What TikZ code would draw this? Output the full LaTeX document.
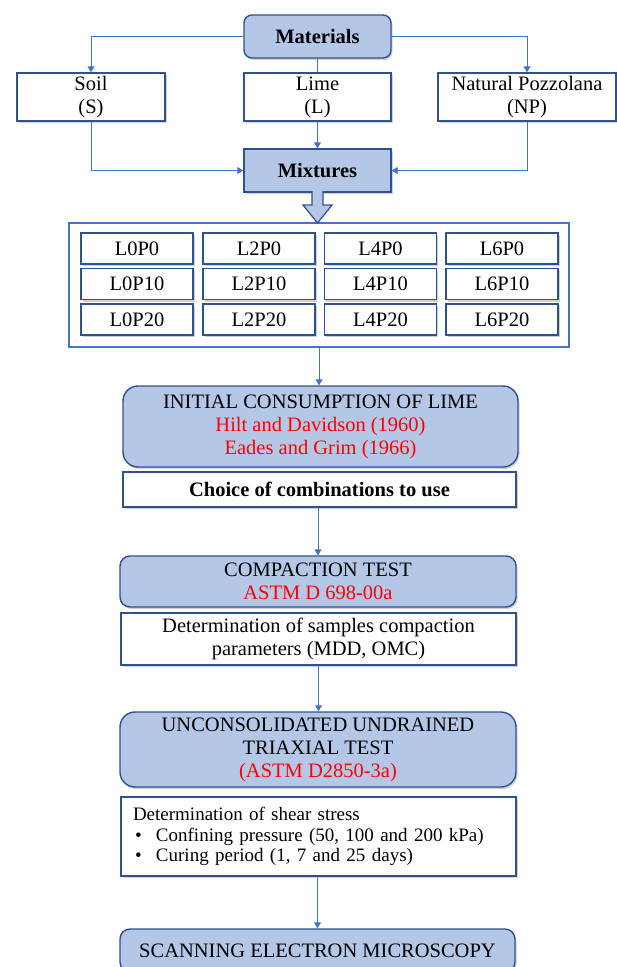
\documentclass[tikz,border=0pt]{standalone}
\usepackage{fontspec}
\setmainfont{Liberation Serif}
\usepackage{tikz}
\usetikzlibrary{arrows.meta,shadows}

\definecolor{lblue}{HTML}{B4C7E7}
\definecolor{bdr}{HTML}{2F528F}
\definecolor{lnk}{HTML}{4472C4}
\definecolor{refred}{HTML}{FF0000}

\tikzset{
  shade box/.style={drop shadow={shadow xshift=1.5pt,shadow yshift=-2pt,opacity=0.3,fill=black!60}},
  bluebox/.style={draw=bdr,line width=1.4pt,fill=lblue,rounded corners=8pt,align=center,inner sep=0pt,shade box},
  whitebox/.style={draw=bdr,line width=1.4pt,fill=white,align=center,inner sep=0pt,shade box},
  cellbox/.style={whitebox,minimum width=112pt,minimum height=31pt},
  conn/.style={draw=lnk,line width=0.9pt},
  arr/.style={conn,-{Triangle[width=7pt,length=6pt]}},
  big/.style={font=\fontsize{20.5}{23}\selectfont}
}

\begin{document}
\begin{tikzpicture}[x=1pt,y=-1pt,big]
	\useasboundingbox (0,0) rectangle (617,967);
	\clip (0,0) rectangle (617,967);

	% 材料
	\node[bluebox,minimum width=147pt,minimum height=43pt] (mat) at (317.5,36.5) {\textbf{Materials}};
	\node[whitebox,minimum width=148pt,minimum height=48pt] (soil) at (91,97) {Soil\\(S)};
	\node[whitebox,minimum width=147pt,minimum height=48pt] (lime) at (317.5,97) {Lime\\(L)};
	\node[whitebox,minimum width=178pt,minimum height=48pt] (np) at (527,97) {Natural Pozzolana\\(NP)};
	\node[bluebox,rounded corners=0pt,minimum width=147pt,minimum height=43pt] (mix) at (317.5,170.5) {\textbf{Mixtures}};

	\draw[arr] (mat.west) -| (soil.north);
	\draw[arr] (mat.east) -| (np.north);
	\draw[conn] (mat.south) -- (lime.north);
	\draw[arr] (lime.south) -- (mix.north);
	\draw[arr] (soil.south) |- (mix.west);
	\draw[arr] (np.south) |- (mix.east);

	% 混合物表格
	\node[draw=lnk,line width=1.2pt,fill=white,minimum width=500pt,minimum height=124pt,inner sep=0pt] (mixbox) at (319,285) {};
	\foreach \c/\x in {0/137,2/259,4/380.5,6/502}
		\foreach \p/\y in {0/248.5,10/284,20/319.5}
			\node[cellbox] (c\c p\p) at (\x,\y) {L\c P\p};

	% 空心箭头
	\draw[draw=bdr,line width=1.2pt,fill=lblue,line join=miter]
		(312,191) -- (312,205) -- (303,205) -- (317.5,223) -- (332,205) -- (323,205) -- (323,191);

	% 石灰初始消耗
	\node[bluebox,rounded corners=15pt,minimum width=395pt,minimum height=81pt] (ini) at (320.5,426.5)
		{INITIAL CONSUMPTION OF LIME\\\textcolor{refred}{Hilt and Davidson (1960)}\\\textcolor{refred}{Eades and Grim (1966)}};
	\node[whitebox,minimum width=393pt,minimum height=35pt] (choice) at (319.5,489.5) {\textbf{Choice of combinations to use}};
	\draw[arr] (mixbox.south) -- (mixbox.south |- ini.north);

	% 击实试验
	\node[bluebox,rounded corners=10pt,minimum width=396pt,minimum height=51pt] (comp) at (318,581.5)
		{COMPACTION TEST\\\textcolor{refred}{ASTM D 698-00a}};
	\node[whitebox,minimum width=395pt,minimum height=52pt] (det) at (318.5,639)
		{Determination of samples compaction\\parameters (MDD, OMC)};
	\draw[arr] (choice.south -| comp.north) -- (comp.north);

	% 三轴试验
	\node[bluebox,rounded corners=15pt,minimum width=396pt,minimum height=75pt] (uu) at (318,749.5)
		{UNCONSOLIDATED UNDRAINED\\TRIAXIAL TEST\\\textcolor{refred}{(ASTM D2850-3a)}};
	\node[whitebox,minimum width=395pt,minimum height=79pt,text width=371pt,align=left,
		font=\fontsize{19}{20.5}\selectfont] (shear) at (318.5,836.5)
		{Determination of shear stress\\
		 \hspace*{2pt}\makebox[21pt][l]{\textbullet}Confining pressure (50, 100 and 200 kPa)\\
		 \hspace*{2pt}\makebox[21pt][l]{\textbullet}Curing period (1, 7 and 25 days)};
	\draw[arr] (det.south) -- (det.south |- uu.north);

	% 扫描电镜
	\node[bluebox,rounded corners=10pt,minimum width=395pt,minimum height=43pt] (sem) at (317.5,950.5)
		{SCANNING ELECTRON MICROSCOPY};
	\draw[arr] (shear.south -| sem.north) -- (sem.north);
\end{tikzpicture}
\end{document}
